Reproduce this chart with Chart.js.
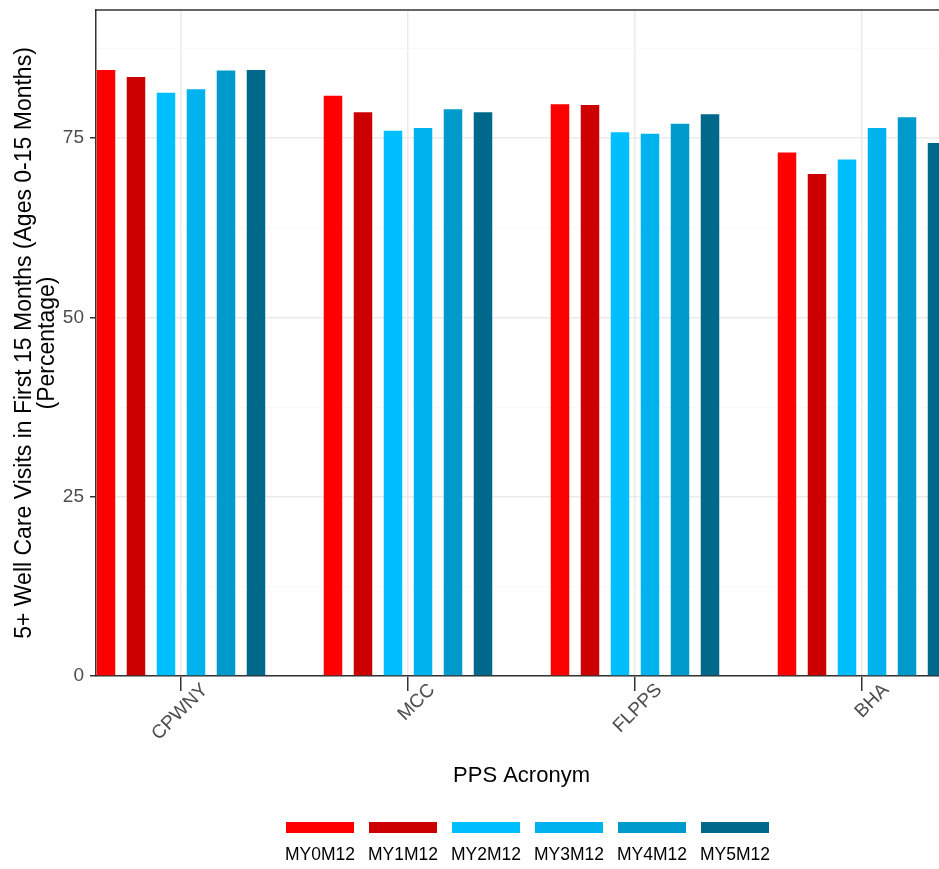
<!DOCTYPE html>
<html>
<head>
<meta charset="utf-8">
<script src="https://cdn.jsdelivr.net/npm/chart.js@4"></script>
<style>
  html, body { margin: 0; padding: 0; background: #fff; overflow: hidden; }
  #wrap { width: 960px; height: 869px; position: relative; }
</style>
</head>
<body>
<div id="wrap"><canvas id="myChart"></canvas></div>
<script>
// --- Data ---
const ppsNames = ['CPWNY', 'MCC', 'FLPPS', 'BHA']
const periods = ['MY0M12', 'MY1M12', 'MY2M12', 'MY3M12', 'MY4M12', 'MY5M12']
const colors = ['#FF0000', '#CC0000', '#00BFFF', '#00B2EE', '#009ACD', '#00688B']

const my0m12 = [84.5, 80.9, 79.7, 73.0]
const my1m12 = [83.5, 78.6, 79.6, 70.0]
const my2m12 = [81.3, 76.0, 75.8, 72.0]
const my3m12 = [81.8, 76.4, 75.6, 76.4]
const my4m12 = [84.4, 79.0, 77.0, 77.9]
const my5m12 = [84.5, 78.6, 78.3, 74.3]
const seriesValues = [my0m12, my1m12, my2m12, my3m12, my4m12, my5m12]

const yTicksMajor = [0, 25, 50, 75]

const fontFamily = '"Liberation Sans", Arial, sans-serif'

// --- Plugins ---
// top border of the panel + ggplot style legend (box above label)
const panelAndLegend = {
    id: 'panelAndLegend',
    afterDraw(chart) {
        const c = chart.ctx
        const a = chart.chartArea
        c.save()
        c.strokeStyle = '#333333'
        c.lineWidth = 1.5
        c.beginPath()
        c.moveTo(a.left, a.top)
        c.lineTo(a.right, a.top)
        c.stroke()

        // legend
        const boxW = 68, boxH = 11, step = 83
        const left = 286
        c.font = '17.5px ' + fontFamily
        c.textAlign = 'center'
        c.textBaseline = 'middle'
        chart.data.datasets.forEach((ds, i) => {
            const x = left + i * step
            c.fillStyle = ds.backgroundColor
            c.fillRect(x, 822, boxW, boxH)
            c.fillStyle = '#000000'
            c.fillText(ds.label, x + boxW / 2, 855)
        })
        c.restore()
    }
}

// --- Build chart ---
const ctx = document.getElementById('myChart').getContext('2d')

const datasets = periods.map((p, i) => ({
    label: p,
    data: seriesValues[i].map((v, j) => ({ x: j, y: v })),
    backgroundColor: colors[i],
    borderWidth: 0,
    categoryPercentage: 0.793,
    barPercentage: 0.617
}))

const myChart = new Chart(ctx, {
    type: 'bar',
    data: { datasets: datasets },
    options: {
        responsive: true,
        maintainAspectRatio: false,
        animation: false,
        layout: { padding: { top: 10, right: 13, left: 0, bottom: 79 } },
        plugins: {
            legend: { display: false },
            tooltip: { enabled: false }
        },
        scales: {
            x: {
                type: 'linear',
                bounds: 'data',
                offset: false,
                min: -0.3744,
                max: 3.3744,
                // one tick per PPS, at the group centres
                afterBuildTicks: (s) => {
                    s.ticks = ppsNames.map((n, i) => ({ value: i }))
                },
                grid: {
                    offset: false,
                    color: '#ebebeb',
                    lineWidth: 1.5,
                    tickColor: '#333333',
                    tickWidth: 1.5,
                    tickLength: 15
                },
                border: { color: '#333333', width: 1.5 },
                ticks: {
                    autoSkip: false,
                    minRotation: 45,
                    maxRotation: 45,
                    padding: -12,
                    labelOffset: 24,
                    color: '#4d4d4d',
                    font: { family: fontFamily, size: 19 },
                    callback: (v) => ppsNames[v] ?? ''
                },
                title: {
                    display: true,
                    text: 'PPS Acronym',
                    color: '#000000',
                    font: { family: fontFamily, size: 22 },
                    padding: { top: 0, bottom: 1 }
                },
                afterFit: (s) => {
                    s.height = 114
                    s.paddingLeft = 0
                    s.paddingRight = 0
                }
            },
            y: {
                min: 0,
                max: 92.85,
                grid: {
                    color: (c) => yTicksMajor.includes(c.tick.value) ? '#ebebeb' : '#f5f5f5',
                    lineWidth: (c) => yTicksMajor.includes(c.tick.value) ? 1.5 : 0.75,
                    tickColor: (c) => yTicksMajor.includes(c.tick.value) ? '#333333' : 'rgba(0,0,0,0)',
                    tickWidth: 1.5,
                    tickLength: 6
                },
                border: { color: '#333333', width: 1.5 },
                ticks: {
                    stepSize: 12.5,
                    includeBounds: false,
                    padding: 6,
                    color: '#4d4d4d',
                    font: { family: fontFamily, size: 19 },
                    callback: (v) => yTicksMajor.includes(v) ? String(v) : ''
                },
                title: {
                    display: true,
                    text: ['5+ Well Care Visits in First 15 Months (Ages 0-15 Months)', '(Percentage)'],
                    color: '#000000',
                    font: { family: fontFamily, size: 23, lineHeight: 1.0 },
                    padding: { top: 13, bottom: 0 }
                },
                afterFit: (s) => {
                    s.width = 96
                    s.paddingTop = 0
                    s.paddingBottom = 0
                }
            }
        }
    },
    plugins: [panelAndLegend]
})
</script>
</body>
</html>
